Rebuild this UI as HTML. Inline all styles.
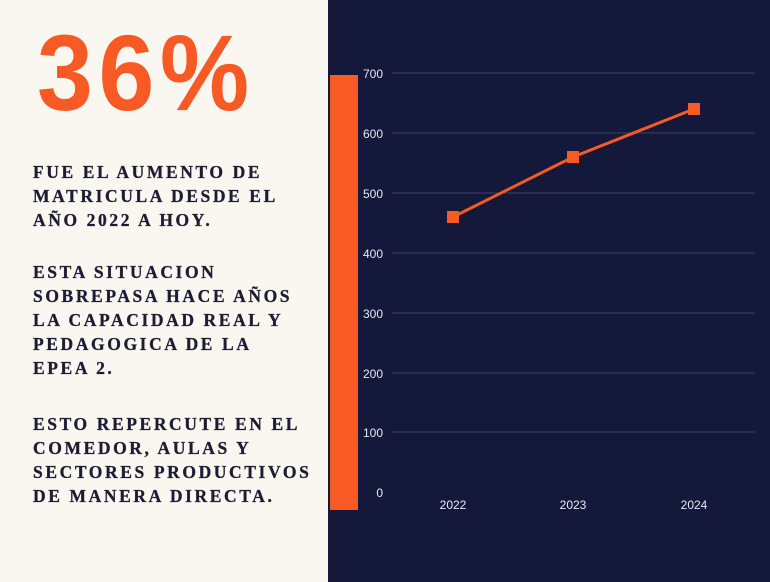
<!DOCTYPE html>
<html><head><meta charset="utf-8"><style>
body{margin:0;width:770px;height:582px;overflow:hidden;position:relative;background:#faf6f0;font-family:"Liberation Sans",sans-serif}
.right{position:absolute;left:328px;top:0;width:442px;height:582px;background:#14183b}
.bar{position:absolute;left:330px;top:75px;width:28px;height:435px;background:#f75a24}
.big{position:absolute;left:37px;top:19px;font-weight:bold;font-size:108px;color:#f75a24;letter-spacing:6px;transform:scaleX(0.93);transform-origin:0 0;line-height:1}
.txt{position:absolute;left:33px;font-family:"Liberation Serif",serif;font-weight:bold;font-size:17.5px;letter-spacing:2.6px;color:#1c1d33;line-height:24px;-webkit-text-stroke:0.3px #1c1d33}
</style></head><body>
<div class="right"></div>
<div class="bar"></div>
<div class="big">36%</div>
<div class="txt" style="top:160px">FUE EL AUMENTO DE<br>MATRICULA DESDE EL<br>AÑO 2022 A HOY.</div>
<div class="txt" style="top:260px">ESTA SITUACION<br>SOBREPASA HACE AÑOS<br>LA CAPACIDAD REAL Y<br>PEDAGOGICA DE LA<br>EPEA 2.</div>
<div class="txt" style="top:412px">ESTO REPERCUTE EN EL<br>COMEDOR, AULAS Y<br>SECTORES PRODUCTIVOS<br>DE MANERA DIRECTA.</div>
<svg style="position:absolute;left:0;top:0" width="770" height="582">
<g stroke="#3a3f66" stroke-width="1">
<line x1="392" y1="73" x2="755" y2="73"/><line x1="392" y1="133" x2="755" y2="133"/>
<line x1="392" y1="193" x2="755" y2="193"/><line x1="392" y1="253" x2="755" y2="253"/>
<line x1="392" y1="313" x2="755" y2="313"/><line x1="392" y1="373" x2="755" y2="373"/>
<line x1="392" y1="432" x2="755" y2="432"/>
</g>
<g fill="#e8e8f0" font-family="Liberation Sans" font-size="12" text-anchor="end">
<text x="383" y="78">700</text><text x="383" y="138">600</text><text x="383" y="198">500</text>
<text x="383" y="258">400</text><text x="383" y="318">300</text><text x="383" y="378">200</text>
<text x="383" y="437">100</text><text x="383" y="497">0</text>
</g>
<g fill="#e8e8f0" font-family="Liberation Sans" font-size="12" text-anchor="middle">
<text x="453" y="509">2022</text><text x="573" y="509">2023</text><text x="694" y="509">2024</text>
</g>
<polyline points="453,217 573,157 694,109" fill="none" stroke="#f75a24" stroke-width="3"/>
<g fill="#f75a24"><rect x="447" y="211" width="12" height="12"/><rect x="567" y="151" width="12" height="12"/><rect x="688" y="103" width="12" height="12"/></g>
</svg>
</body></html>
